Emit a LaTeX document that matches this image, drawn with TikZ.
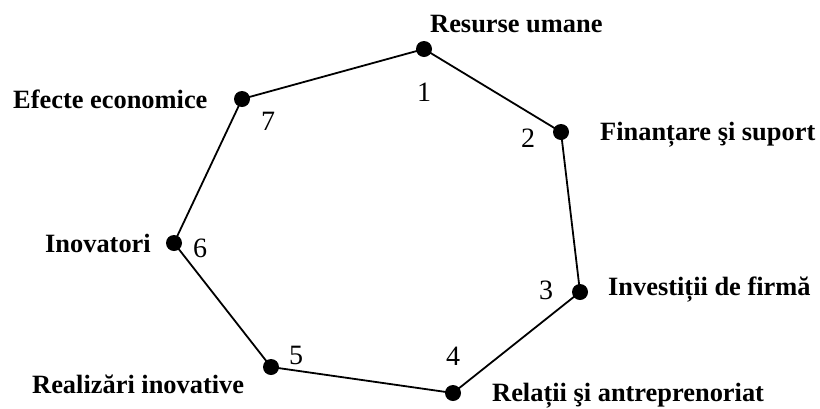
\documentclass[tikz,border=0pt]{standalone}
\usepackage{fontspec}
\setmainfont{Liberation Serif}
\begin{document}
\begin{tikzpicture}[x=1pt,y=-1pt,
  pt/.style={circle,fill=black,inner sep=0pt,minimum size=16pt},
  lbl/.style={font=\fontsize{26.4}{30}\selectfont\bfseries,anchor=base west,inner sep=0pt},
  num/.style={font=\fontsize{28}{30}\selectfont,inner sep=0pt,anchor=center},
  edge/.style={line width=1.8pt}]
\useasboundingbox (0,0) rectangle (820,408);
\node[pt] (p1) at (424,49) {};
\node[pt] (p2) at (561,132) {};
\node[pt] (p3) at (580,292) {};
\node[pt] (p4) at (453,393) {};
\node[pt] (p5) at (271,367) {};
\node[pt] (p6) at (174,243) {};
\node[pt] (p7) at (242,99) {};
\draw[edge] (p1.center) -- (p2.center) -- (p3.center) -- (p4.center) -- (p5.center) -- (p6.center) -- (p7.center) -- (p1.center);
\node[num] (n1) at (424,92) {1};
\node[num] (n2) at (528,138) {2};
\node[num] (n3) at (546,290) {3};
\node[num] (n4) at (453,356) {4};
\node[num] (n5) at (296,355) {5};
\node[num] (n6) at (200,248) {6};
\node[num] (n7) at (268,121) {7};
\node[lbl] (l1) at (430,32) {Resurse umane};
\node[lbl] (l2) at (600,140) {Finanțare şi suport};
\node[lbl] (l3) at (608,295) {Investiții de firmă};
\node[lbl] (l4) at (492,401) {Relații şi antreprenoriat};
\node[lbl] (l5) at (32,393) {Realizări inovative};
\node[lbl] (l6) at (45,252) {Inovatori};
\node[lbl] (l7) at (13,108) {Efecte economice};
\end{tikzpicture}
\end{document}
